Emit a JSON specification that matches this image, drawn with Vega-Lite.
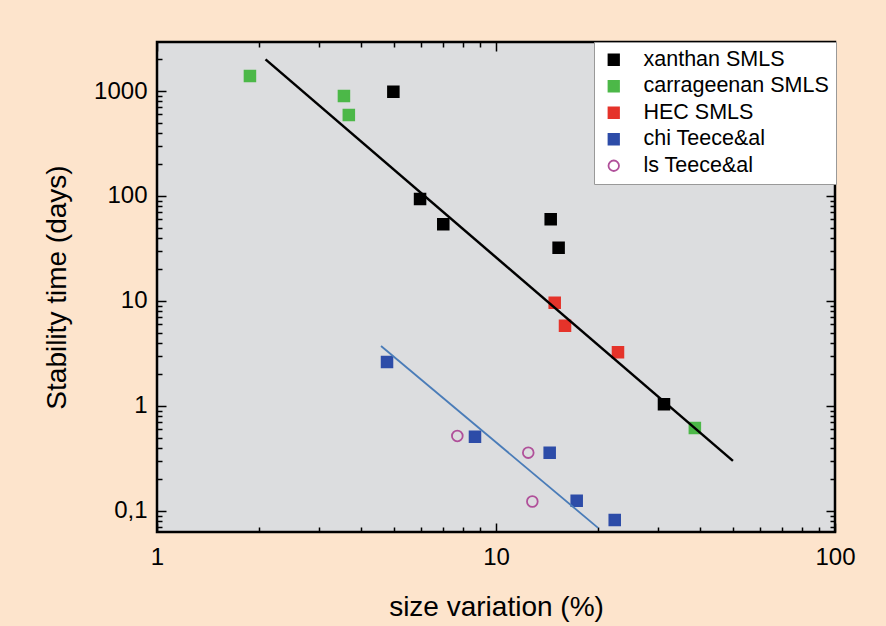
{
  "$schema": "https://vega.github.io/schema/vega-lite/v6.json",
  "width": 678,
  "height": 490,
  "autosize": {"type": "none"},
  "padding": {"left": 157, "top": 42, "right": 51, "bottom": 94},
  "background": "#fde4cc",
  "config": {
    "font": "Liberation Sans",
    "view": {"fill": "#dcdddf", "stroke": "#000000", "strokeWidth": 2.5},
    "axis": {
      "domain": false,
      "grid": false,
      "tickColor": "#000000",
      "tickWidth": 1.5,
      "labelColor": "#000000",
      "labelFont": "Liberation Sans",
      "labelFontSize": 24,
      "titleFont": "Liberation Sans",
      "titleFontSize": 28,
      "titleFontWeight": "normal",
      "titleColor": "#000000"
    },
    "legend": {
      "orient": "none",
      "legendX": 437,
      "legendY": 0,
      "fillColor": "#ffffff",
      "strokeColor": "#999999",
      "padding": 7,
      "labelFont": "Liberation Sans",
      "labelFontSize": 21.5,
      "labelLimit": 400,
      "labelColor": "#000000",
      "rowPadding": 3.5,
      "symbolSize": 110,
      "symbolStrokeWidth": 1.8,
      "symbolOffset": 2,
      "labelOffset": 19
    }
  },
  "datasets": {
    "pts": [
      {"series": "xanthan SMLS", "size": 4.98, "days": 984},
      {"series": "xanthan SMLS", "size": 5.97, "days": 93.6},
      {"series": "xanthan SMLS", "size": 6.99, "days": 53.7},
      {"series": "xanthan SMLS", "size": 14.5, "days": 60},
      {"series": "xanthan SMLS", "size": 15.3, "days": 32.2},
      {"series": "xanthan SMLS", "size": 31.3, "days": 1.04},
      {"series": "carrageenan SMLS", "size": 1.88, "days": 1390},
      {"series": "carrageenan SMLS", "size": 3.56, "days": 895},
      {"series": "carrageenan SMLS", "size": 3.68, "days": 591},
      {"series": "carrageenan SMLS", "size": 38.6, "days": 0.617},
      {"series": "HEC SMLS", "size": 14.9, "days": 9.64},
      {"series": "HEC SMLS", "size": 15.98, "days": 5.82},
      {"series": "HEC SMLS", "size": 22.9, "days": 3.24},
      {"series": "chi Teece&al", "size": 4.77, "days": 2.62},
      {"series": "chi Teece&al", "size": 8.67, "days": 0.51},
      {"series": "chi Teece&al", "size": 14.4, "days": 0.359},
      {"series": "chi Teece&al", "size": 17.3, "days": 0.125},
      {"series": "chi Teece&al", "size": 22.4, "days": 0.082},
      {"series": "ls Teece&al", "size": 7.69, "days": 0.518},
      {"series": "ls Teece&al", "size": 12.45, "days": 0.359},
      {"series": "ls Teece&al", "size": 12.8, "days": 0.123}
    ],
    "fits": [
      {"fit": "SMLS", "size": 2.09, "days": 2000},
      {"fit": "SMLS", "size": 50, "days": 0.3},
      {"fit": "Teece", "size": 4.58, "days": 3.73},
      {"fit": "Teece", "size": 20, "days": 0.069}
    ]
  },
  "layer": [
    {
      "data": {"name": "pts"},
      "mark": {"type": "point", "size": 115, "strokeWidth": 1.8, "opacity": 1},
      "encoding": {
        "x": {
          "field": "size", "type": "quantitative",
          "scale": {"type": "log", "domain": [1, 100], "nice": false},
          "axis": {
            "orient": "bottom",
            "title": "size variation (%)",
            "titlePadding": 20,
            "values": [1,2,3,4,5,6,7,8,9,10,20,30,40,50,60,70,80,90,100],
            "labelExpr": "abs(log(datum.value)/LN10 - round(log(datum.value)/LN10)) < 0.001 ? format(datum.value, '~g') : ''",
            "tickSize": {"condition": {"test": "abs(log(datum.value)/LN10 - round(log(datum.value)/LN10)) < 0.001", "value": -9}, "value": -5},
            "labelPadding": 22,
            "labelFlush": false,
            "labelOverlap": false
          }
        },
        "y": {
          "field": "days", "type": "quantitative",
          "scale": {"type": "log", "domain": [0.063, 2930], "nice": false},
          "axis": {
            "orient": "left",
            "title": "Stability time (days)",
            "titlePadding": 22,
            "values": [0.07,0.08,0.09,0.1,0.2,0.3,0.4,0.5,0.6,0.7,0.8,0.9,1,2,3,4,5,6,7,8,9,10,20,30,40,50,60,70,80,90,100,200,300,400,500,600,700,800,900,1000,2000],
            "labelExpr": "abs(log(datum.value)/LN10 - round(log(datum.value)/LN10)) < 0.001 ? replace(format(datum.value, '~g'), '.', ',') : ''",
            "tickSize": {"condition": {"test": "abs(log(datum.value)/LN10 - round(log(datum.value)/LN10)) < 0.001", "value": -9}, "value": -5},
            "labelPadding": 19,
            "labelFlush": false,
            "labelOverlap": false
          }
        },
        "fill": {
          "field": "series", "type": "nominal",
          "scale": {"domain": ["xanthan SMLS", "carrageenan SMLS", "HEC SMLS", "chi Teece&al", "ls Teece&al"], "range": ["#000000", "#4cb848", "#e5332a", "#2d4ca8", "transparent"]},
          "legend": {"title": null}
        },
        "stroke": {
          "field": "series", "type": "nominal",
          "scale": {"domain": ["xanthan SMLS", "carrageenan SMLS", "HEC SMLS", "chi Teece&al", "ls Teece&al"], "range": ["#000000", "#4cb848", "#e5332a", "#2d4ca8", "#b0509a"]},
          "legend": {"title": null}
        },
        "shape": {
          "field": "series", "type": "nominal",
          "scale": {"domain": ["xanthan SMLS", "carrageenan SMLS", "HEC SMLS", "chi Teece&al", "ls Teece&al"], "range": ["square", "square", "square", "square", "circle"]},
          "legend": {"title": null}
        }
      }
    },
    {
      "data": {"name": "fits"},
      "transform": [{"filter": "datum.fit == 'SMLS'"}],
      "mark": {"type": "line", "color": "#000000", "strokeWidth": 2.5},
      "encoding": {
        "x": {
          "field": "size", "type": "quantitative",
          "axis": {
            "orient": "top", "title": null, "labels": false,
            "values": [1,2,3,4,5,6,7,8,9,10,20,30,40,50,60,70,80,90,100],
            "tickSize": {"condition": {"test": "abs(log(datum.value)/LN10 - round(log(datum.value)/LN10)) < 0.001", "value": -9}, "value": -5}
          }
        },
        "y": {
          "field": "days", "type": "quantitative",
          "axis": {
            "orient": "right", "title": null, "labels": false,
            "values": [0.07,0.08,0.09,0.1,0.2,0.3,0.4,0.5,0.6,0.7,0.8,0.9,1,2,3,4,5,6,7,8,9,10,20,30,40,50,60,70,80,90,100,200,300,400,500,600,700,800,900,1000,2000],
            "tickSize": {"condition": {"test": "abs(log(datum.value)/LN10 - round(log(datum.value)/LN10)) < 0.001", "value": -9}, "value": -5}
          }
        }
      }
    },
    {
      "data": {"name": "fits"},
      "transform": [{"filter": "datum.fit == 'Teece'"}],
      "mark": {"type": "line", "color": "#4a7cb8", "strokeWidth": 1.8},
      "encoding": {
        "x": {"field": "size", "type": "quantitative", "axis": null},
        "y": {"field": "days", "type": "quantitative", "axis": null}
      }
    }
  ],
  "resolve": {"axis": {"x": "independent", "y": "independent"}}
}
